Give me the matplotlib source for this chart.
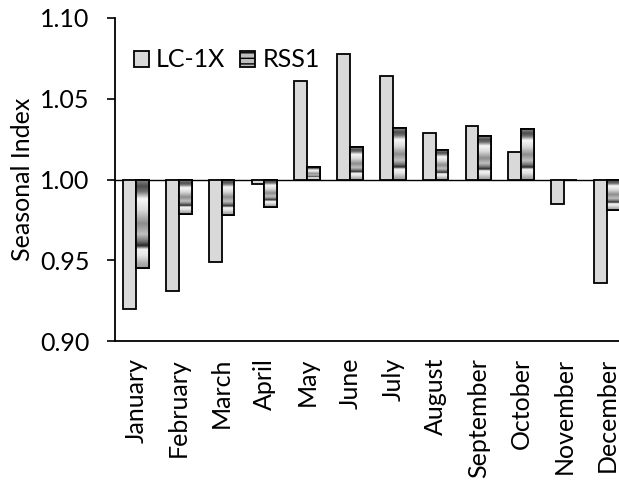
import numpy as np
import matplotlib
matplotlib.use('Agg')
from matplotlib import pyplot as plt

months = ['January', 'February', 'March', 'April', 'May', 'June', 'July',
          'August', 'September', 'October', 'November', 'December']
lc_1x = [0.920, 0.931, 0.949, 0.997, 1.061, 1.078, 1.064, 1.029, 1.033, 1.017, 0.985, 0.936]
rss1 = [0.945, 0.979, 0.978, 0.983, 1.008, 1.020, 1.032, 1.018, 1.027, 1.031, 0.9997, 0.981]
y_ticks = [0.90, 0.95, 1.00, 1.05, 1.10]
base = 1.00

plt.rcParams['font.family'] = ['Lato', 'DejaVu Sans']
fs = 18

# banded grey shading used inside the RSS1 bars (top -> bottom)
stops_t = [0.0, 0.08, 0.14, 0.22, 0.35, 0.50, 0.62, 0.70, 0.75, 0.79, 0.86, 0.94, 1.0]
stops_v = [0.55, 0.30, 0.45, 0.97, 0.85, 0.55, 0.75, 0.45, 0.15, 0.95, 0.90, 0.70, 0.60]
shade = np.interp(np.linspace(0, 1, 200), stops_t, stops_v)[:, None]

fig = plt.figure(figsize=(6.19, 4.86), dpi=100)
ax = fig.add_axes([0.185, 0.298, 0.83, 0.665])

x = np.arange(len(months))
w = 0.3
ax.bar(x - w / 2, np.array(lc_1x) - base, w, bottom=base, color='#d9d9d9',
       edgecolor='black', linewidth=1.3, label='LC-1X', zorder=3)
bars = ax.bar(x + w / 2, np.array(rss1) - base, w, bottom=base, color='#c8c8c8',
              edgecolor='black', linewidth=1.3, label='RSS1', zorder=3)

for b in bars:
    x0, y0 = b.get_x(), b.get_y()
    bw, bh = b.get_width(), b.get_height()
    lo, hi = min(y0, y0 + bh), max(y0, y0 + bh)
    if hi - lo < 0.001:
        continue
    im = ax.imshow(shade, cmap='gray', vmin=0, vmax=1, aspect='auto',
                   extent=[x0, x0 + bw, lo, hi], origin='upper', zorder=3.5,
                   interpolation='bilinear')
    im.set_clip_path(b)
    ax.bar(x0 + bw / 2, bh, bw, bottom=y0, fill=False, edgecolor='black',
           linewidth=1.3, zorder=4)

ax.axhline(base, color='black', linewidth=1.0, zorder=2)

ax.set_xlim(-0.5, 11.5)
ax.set_ylim(0.90, 1.10)
ax.set_yticks(y_ticks)
ax.set_yticklabels([f'{v:.2f}' for v in y_ticks], fontsize=fs)
ax.set_xticks(x)
ax.set_xticklabels(months, rotation=90, fontsize=fs)
ax.tick_params(axis='x', length=0, pad=12)
ax.tick_params(axis='y', length=6, width=1.2, direction='out', pad=12)
ax.set_ylabel('Seasonal Index', fontsize=fs, labelpad=4)

for s in ['top', 'right']:
    ax.spines[s].set_visible(False)
ax.spines['left'].set_linewidth(1.3)
ax.spines['bottom'].set_linewidth(1.3)

leg = ax.legend(loc='upper left', bbox_to_anchor=(0.003, 0.96), ncol=2, frameon=False,
                fontsize=fs, handlelength=0.6, handleheight=0.6, handletextpad=0.3,
                columnspacing=0.6, borderpad=0.2)
# put the banded shading on the RSS1 legend swatch too
for patch in leg.get_patches()[1:]:
    patch.set_facecolor('#bdbdbd')
    patch.set_hatch('---')
    patch.set_edgecolor('black')

fig.savefig('out.png', dpi=100)
